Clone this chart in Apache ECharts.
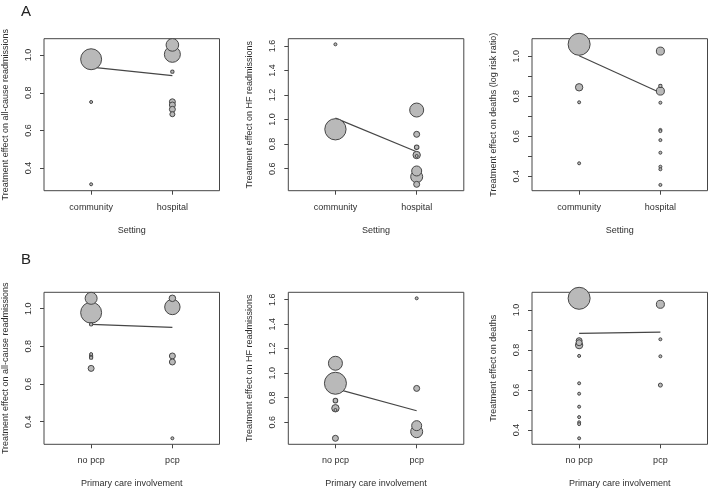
<!DOCTYPE html>
<html><head><meta charset="utf-8">
<script src="https://cdn.jsdelivr.net/npm/echarts@6/dist/echarts.min.js"></script>
<style>html,body{margin:0;padding:0;background:#fff}#c{width:709px;height:490px}</style>
</head><body><div id="c"></div>
<script>
// ---------- data ----------
const settingCats = ['community', 'hospital'];
const pcpCats = ['no pcp', 'pcp'];

const allCauseTicks = [0.4, 0.6, 0.8, 1.0];
const hfTicks = [0.6, 0.8, 1.0, 1.2, 1.4, 1.6];
const deathTickMarks = [0.4, 0.5, 0.6, 0.7, 0.8, 0.9, 1.0];
const deathTickLabels = [0.4, 0.6, 0.8, 1.0];

// A: all-cause readmissions by setting (group 1 = community, 2 = hospital)
const aAllGroup  = [1, 1, 1, 2, 2, 2, 2, 2, 2, 2];
const aAllValue  = [0.978, 0.751, 0.314, 1.054, 1.004, 0.912, 0.752, 0.735, 0.712, 0.686];
const aAllWeight = [65, 1, 1, 23.5, 37.9, 1.7, 5.3, 5.3, 5.3, 3.7];
const aAllFit    = [0.936, 0.891];

// A: HF readmissions by setting
const aHfGroup  = [1, 1, 2, 2, 2, 2, 2, 2, 2, 2];
const aHfValue  = [0.921, 1.614, 1.078, 0.880, 0.774, 0.711, 0.703, 0.581, 0.534, 0.472];
const aHfWeight = [67, 1, 29, 5.3, 3.1, 8.1, 0.8, 14.8, 21.3, 5.3];
const aHfFit    = [1.012, 0.738];

// A: deaths by setting
const aDeathGroup  = [1, 1, 1, 1, 2, 2, 2, 2, 2, 2, 2, 2, 2, 2, 2];
const aDeathValue  = [1.060, 0.845, 0.770, 0.465, 1.026, 0.852, 0.826, 0.768, 0.632, 0.626, 0.581, 0.518, 0.448, 0.435, 0.357];
const aDeathWeight = [71.6, 8.1, 1, 1, 9.5, 1.7, 9.5, 1, 1, 1, 1, 1, 1, 1, 1];
const aDeathFit    = [1.003, 0.818];

// B: all-cause readmissions by primary care involvement (1 = no pcp, 2 = pcp)
const bAllGroup  = [1, 1, 1, 1, 1, 1, 1, 2, 2, 2, 2, 2];
const bAllValue  = [1.055, 0.979, 0.917, 0.759, 0.749, 0.740, 0.683, 1.055, 1.009, 0.749, 0.717, 0.312];
const bAllWeight = [21.3, 65, 1.7, 1.3, 1.7, 1.7, 5.3, 6.4, 35, 5.3, 5.3, 1];
const bAllFit    = [0.917, 0.901];

// B: HF readmissions by primary care involvement
const bHfGroup  = [1, 1, 1, 1, 1, 1, 2, 2, 2, 2];
const bHfValue  = [1.081, 0.918, 0.776, 0.714, 0.700, 0.469, 1.611, 0.876, 0.572, 0.523];
const bHfWeight = [29, 71.6, 3.1, 8.1, 0.8, 5.3, 1, 5.3, 14.8, 21.3];
const bHfFit    = [0.874, 0.694];

// B: deaths by primary care involvement
const bDeathGroup  = [1, 1, 1, 1, 1, 1, 1, 1, 1, 1, 1, 1, 2, 2, 2, 2];
const bDeathValue  = [1.058, 0.846, 0.836, 0.824, 0.770, 0.633, 0.581, 0.516, 0.464, 0.438, 0.429, 0.358, 1.028, 0.853, 0.768, 0.624];
const bDeathWeight = [71.6, 5.3, 5.3, 8.1, 1, 1, 1, 1, 1, 1, 1, 1, 9.5, 1, 1, 2.4];
const bDeathFit    = [0.883, 0.889];

// ---------- layout / style ----------
const FONT = "'Liberation Sans', Arial, Helvetica, sans-serif";
const TXT = '#2e2e2e';
const INK = '#464646';
const colLeft = [44, 288.3, 532];
const rowTop = [38.7, 292.3];
const W = 175.5, H = 152;

const panels = [
  {row:0, col:0, cats:settingCats, xName:'Setting', yName:'Treatment effect on all-cause readmissions', yMin:0.28, yMax:1.087, marks:allCauseTicks, labels:allCauseTicks, g:aAllGroup, v:aAllValue, w:aAllWeight, fit:aAllFit},
  {row:0, col:1, cats:settingCats, xName:'Setting', yName:'Treatment effect on HF readmissions', yMin:0.42, yMax:1.66, marks:hfTicks, labels:hfTicks, g:aHfGroup, v:aHfValue, w:aHfWeight, fit:aHfFit},
  {row:0, col:2, cats:settingCats, xName:'Setting', yName:'Treatment effect on deaths (log risk ratio)', yMin:0.328, yMax:1.088, marks:deathTickMarks, labels:deathTickLabels, g:aDeathGroup, v:aDeathValue, w:aDeathWeight, fit:aDeathFit},
  {row:1, col:0, cats:pcpCats, xName:'Primary care involvement', yName:'Treatment effect on all-cause readmissions', yMin:0.28, yMax:1.087, marks:allCauseTicks, labels:allCauseTicks, g:bAllGroup, v:bAllValue, w:bAllWeight, fit:bAllFit},
  {row:1, col:1, cats:pcpCats, xName:'Primary care involvement', yName:'Treatment effect on HF readmissions', yMin:0.42, yMax:1.66, marks:hfTicks, labels:hfTicks, g:bHfGroup, v:bHfValue, w:bHfWeight, fit:bHfFit},
  {row:1, col:2, cats:pcpCats, xName:'Primary care involvement', yName:'Treatment effect on deaths', yMin:0.328, yMax:1.088, marks:deathTickMarks, labels:deathTickLabels, g:bDeathGroup, v:bDeathValue, w:bDeathWeight, fit:bDeathFit}
];

const grid = [], xAxis = [], yAxis = [], series = [];
panels.forEach((p, i) => {
  grid.push({left: colLeft[p.col], top: rowTop[p.row], width: W, height: H,
    show: true, borderColor: INK, borderWidth: 1, backgroundColor: 'transparent'});
  xAxis.push({type: 'value', gridIndex: i, min: 0.42, max: 2.58,
    splitLine: {show: false}, axisLine: {show: false},
    axisTick: {show: true, length: 4, customValues: [1, 2], lineStyle: {color: INK}},
    axisLabel: {customValues: [1, 2], formatter: v => p.cats[Math.round(v) - 1],
      color: TXT, fontSize: 9, fontFamily: FONT, margin: 12},
    name: p.xName, nameLocation: 'middle', nameGap: 35,
    nameTextStyle: {color: TXT, fontSize: 9, fontFamily: FONT}});
  yAxis.push({type: 'value', gridIndex: i, min: p.yMin, max: p.yMax,
    splitLine: {show: false}, axisLine: {show: false},
    axisTick: {show: true, length: 4, customValues: p.marks, lineStyle: {color: INK}},
    axisLabel: {customValues: p.labels, formatter: v => v.toFixed(1), rotate: 90,
      color: TXT, fontSize: 9, fontFamily: FONT, margin: 11},
    name: p.yName, nameLocation: 'middle', nameGap: 34,
    nameTextStyle: {color: TXT, fontSize: 9, fontFamily: FONT}});
  series.push({type: 'line', xAxisIndex: i, yAxisIndex: i, z: 1,
    data: [[1, p.fit[0]], [2, p.fit[1]]], symbol: 'none', silent: true,
    lineStyle: {color: INK, width: 1.2}});
  const pts = p.v.map((val, k) => [p.g[k], val, p.w[k]]).sort((a, b) => b[2] - a[2]);
  series.push({type: 'scatter', xAxisIndex: i, yAxisIndex: i, z: 2,
    data: pts, symbol: 'circle', symbolSize: d => Math.max(3, 2.6 * Math.sqrt(d[2])),
    itemStyle: {color: '#b9b9b9', borderColor: INK, borderWidth: 1, opacity: 1},
    emphasis: {disabled: true}});
});

const chart = echarts.init(document.getElementById('c'));
chart.setOption({
  animation: false,
  backgroundColor: '#fff',
  grid, xAxis, yAxis, series,
  graphic: [
    {type: 'text', left: 21, top: 4, style: {text: 'A', fontSize: 15, fontFamily: FONT, fill: '#222'}},
    {type: 'text', left: 21, top: 252, style: {text: 'B', fontSize: 15, fontFamily: FONT, fill: '#222'}}
  ]
});
</script></body></html>
